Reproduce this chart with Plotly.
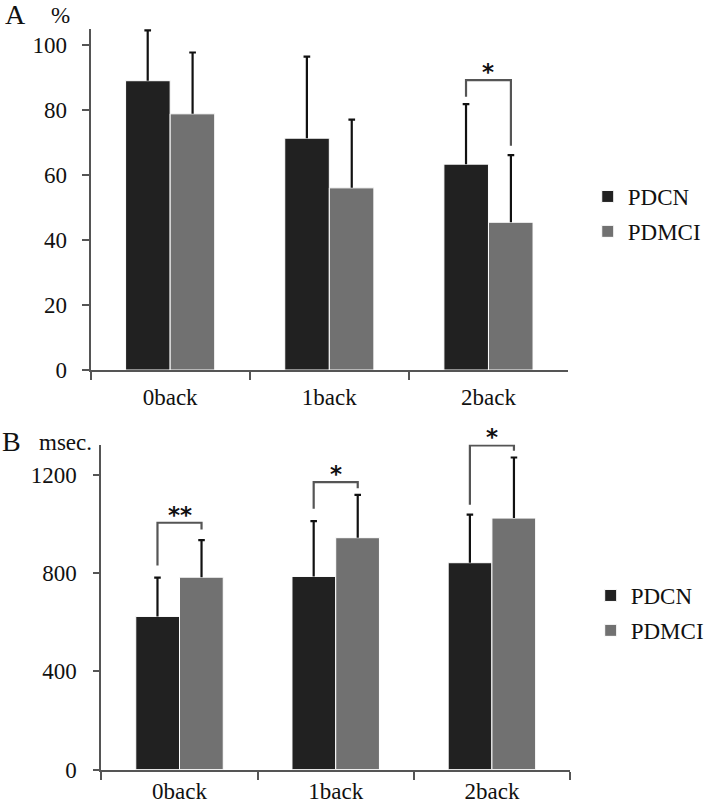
import plotly.graph_objects as go

categories = ["0back", "1back", "2back"]

# Panel A: accuracy (%)
acc_pdcn = [89.1, 71.4, 63.4]
acc_pdcn_sd = [15.5, 25.1, 18.5]
acc_pdmci = [78.9, 56.1, 45.5]
acc_pdmci_sd = [18.9, 21.0, 20.7]

# Panel B: reaction time (msec.)
rt_pdcn = [624, 787, 843]
rt_pdcn_sd = [158, 226, 196]
rt_pdmci = [784, 945, 1025]
rt_pdmci_sd = [151, 175, 247]

# Significance brackets: (category index, top, left leg bottom, right leg bottom, label)
sig_a = [(2, 89.3, 84.2, 69.1, "*")]
sig_b = [(0, 1006, 832, 978, "**"), (1, 1172, 1063, 1147, "*"), (2, 1321, 1079, 1300, "*")]

series_names = ["PDCN", "PDMCI"]
colors = ["#212121", "#717171"]

W, H = 709, 807
FONT = "Liberation Serif, Times New Roman, serif"
FS = 23
AXC = "#555555"
OFF = 0.141      # bar centre offset from category centre (category units)
CAP = 0.021      # half-width of error-bar cap (category units)

fig = go.Figure()

def add_panel(vals, sds, xa, ya, legend):
    for i, v in enumerate(vals):
        fig.add_trace(go.Bar(
            x=categories, y=v, name=series_names[i],
            marker=dict(color=colors[i], line=dict(color="white", width=1)),
            xaxis=xa, yaxis=ya, legend=legend,
            legendgroup=legend + series_names[i],
            offsetgroup=str(i),
        ))
    # upper error bars (one-sided, no cap at bar top)
    for i, (v, sd) in enumerate(zip(vals, sds)):
        sgn = -1 if i == 0 else 1
        for ci in range(len(categories)):
            xc = ci + sgn * OFF
            top = v[ci] + sd[ci]
            fig.add_shape(type="path",
                          path=f"M {xc} {v[ci]} L {xc} {top} M {xc - CAP} {top} L {xc + CAP} {top}",
                          xref=xa, yref=ya, line=dict(color="#111111", width=2.2))

add_panel([acc_pdcn, acc_pdmci], [acc_pdcn_sd, acc_pdmci_sd], "x", "y", "legend")
add_panel([rt_pdcn, rt_pdmci], [rt_pdcn_sd, rt_pdmci_sd], "x2", "y2", "legend2")

def add_brackets(sigs, xref, yref):
    for ci, top, lb, rb, lab in sigs:
        x0 = ci - OFF
        x1 = ci + OFF
        fig.add_shape(type="path",
                      path=f"M {x0} {lb} L {x0} {top} L {x1} {top} L {x1} {rb}",
                      xref=xref, yref=yref,
                      line=dict(color=AXC, width=2.2))
        fig.add_annotation(x=ci, y=top, xref=xref, yref=yref, text=f"<b>{lab}</b>",
                           showarrow=False, yanchor="bottom", yshift=-7,
                           font=dict(family="DejaVu Sans", size=23, color="#111111"))

add_brackets(sig_a, "x", "y")
add_brackets(sig_b, "x2", "y2")

axis_common = dict(showline=True, linecolor=AXC, linewidth=2, showgrid=False,
                   zeroline=False, ticks="outside", tickcolor=AXC, tickwidth=2,
                   automargin=False,
                   tickfont=dict(family=FONT, size=FS, color="#111111"))

fig.update_layout(
    width=W, height=H,
    margin=dict(l=0, r=0, t=0, b=0),
    paper_bgcolor="white", plot_bgcolor="white",
    barmode="group", bargap=0.44, bargroupgap=0.0,
    font=dict(family=FONT, size=FS, color="#111111"),
    xaxis=dict(domain=[92 / W, 577 / W], anchor="y", type="category",
               tickson="boundaries", ticklen=8, ticklabelstandoff=5, **axis_common),
    yaxis=dict(domain=[437 / H, 777.9 / H], anchor="x", range=[0, 105],
               tickvals=[0, 20, 40, 60, 80, 100], ticklen=7,
               ticklabelstandoff=10, **axis_common),
    xaxis2=dict(domain=[103 / W, 579 / W], anchor="y2", type="category",
                tickson="boundaries", ticklen=8, ticklabelstandoff=0, **axis_common),
    yaxis2=dict(domain=[37.5 / H, 362.5 / H], anchor="x2", range=[0, 1325],
                tickvals=[0, 400, 800, 1200], ticklen=6,
                ticklabelstandoff=12, **axis_common),
    legend=dict(x=597 / W, y=1 - 175 / H, xanchor="left", yanchor="top",
                traceorder="grouped", tracegroupgap=2,
                font=dict(family=FONT, size=FS, color="#111111"),
                bgcolor="rgba(0,0,0,0)"),
    legend2=dict(x=600 / W, y=1 - 574 / H, xanchor="left", yanchor="top",
                 traceorder="grouped", tracegroupgap=2,
                 font=dict(family=FONT, size=FS, color="#111111"),
                 bgcolor="rgba(0,0,0,0)"),
    showlegend=True,
)

# Panel letters and units
labels = [("A", 3, 15, 28), ("%", 50, 16, FS), ("B", 0, 441, 28), ("msec.", 38, 442, FS)]
for txt, px, py, sz in labels:
    fig.add_annotation(x=px / W, y=1 - py / H, xref="paper", yref="paper",
                       text=txt, showarrow=False, xanchor="left", yanchor="middle",
                       font=dict(family=FONT, size=sz, color="#111111"))

css_js = (
    "var d=document.documentElement,b=document.body;"
    "d.style.margin='0';d.style.padding='0';d.style.overflow='hidden';"
    "b.style.margin='0';b.style.padding='0';b.style.overflow='hidden';"
)
fig.write_html("out.html", config={"displayModeBar": False}, post_script=css_js)
